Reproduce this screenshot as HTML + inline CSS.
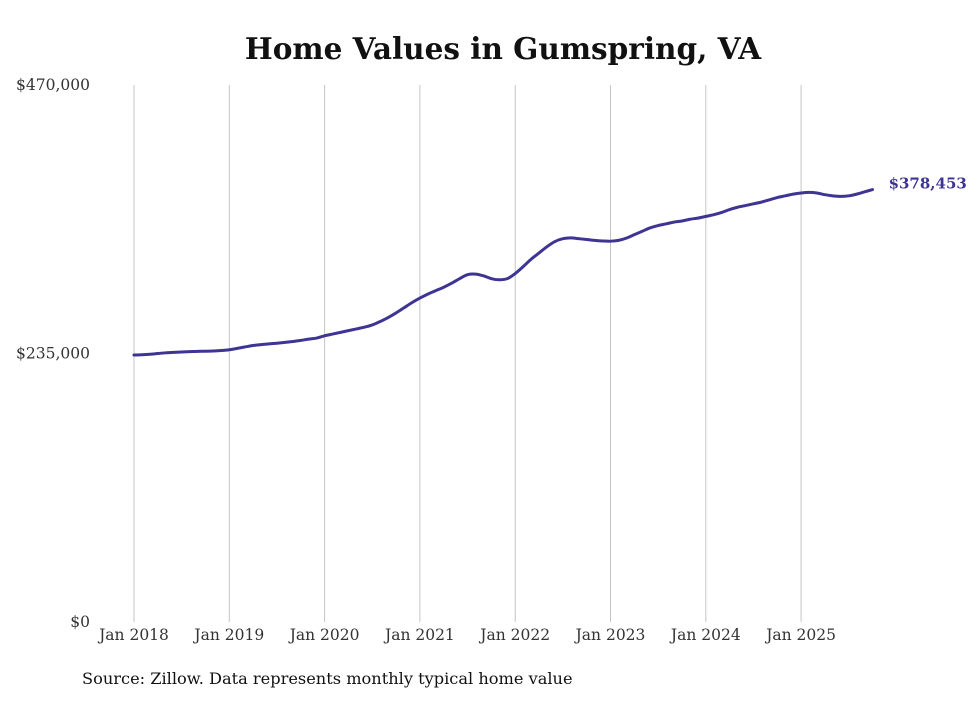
<!DOCTYPE html>
<html><head><meta charset="utf-8">
<style>
html,body{margin:0;padding:0;background:#fff;}
body{width:980px;height:699px;overflow:hidden;font-family:"DejaVu Serif","Liberation Serif",serif;}
svg text{font-family:"DejaVu Serif","Liberation Serif",serif;}
</style></head>
<body>
<svg id="chart" width="980" height="699" viewBox="0 0 980 699" xmlns="http://www.w3.org/2000/svg">
<text x="503" y="59" text-anchor="middle" font-size="29.5" font-weight="bold" fill="#111">Home Values in Gumspring, VA</text>
<g id="grid"></g>
<g id="yaxis"></g>
<g id="xaxis"></g>
<path id="line" fill="none" stroke="#3d3494" stroke-width="3" stroke-linejoin="round" stroke-linecap="round"></path>
<text id="endlabel" font-size="15" font-weight="bold" fill="#3d3494"></text>
<text x="82" y="684" font-size="16.2" fill="#111">Source: Zillow. Data represents monthly typical home value</text>
</svg>
<script>
const years = ["Jan 2018","Jan 2019","Jan 2020","Jan 2021","Jan 2022","Jan 2023","Jan 2024","Jan 2025"];
const yTicks = [0,235000,470000];
const yTickLabels = ["$0","$235,000","$470,000"];
const values2018 = [233.7,233.9,234.3,235.0,235.6,236.0,236.3,236.6,236.9,237.0,237.2,237.6];
const values2019 = [238.3,239.5,240.8,242.0,242.8,243.4,244.0,244.7,245.5,246.5,247.6,248.5];
const values2020 = [250.5,252,253.5,255,256.5,258,260,263,266.5,270.5,275,279.5];
const values2021 = [283.5,287,290,293,296.5,300.5,304,304.5,303,300.5,299.5,300.5];
const values2022 = [305,311,317.5,323,328.5,333,335.5,336.2,335.5,334.8,334,333.5];
const values2023 = [333.3,334,336,339,342,345,347,348.5,350,351,352.5,353.5];
const values2024 = [355,356.5,358.5,361,363,364.5,366,367.5,369.5,371.5,373,374.5];
const values2025 = [375.5,376,375.5,374,373,372.5,373,374.5,376.5,378.453];
const lastLabel = "$378,453";

const values = [].concat(values2018,values2019,values2020,values2021,values2022,values2023,values2024,values2025).map(v=>v*1000);
const X0=134, XPERYEAR=95.3, Y0=622, YTOP=85, YMAX=470000;
const x = i => X0 + i*XPERYEAR/12;
const y = v => Y0 - v/YMAX*(Y0-YTOP);
const NS="http://www.w3.org/2000/svg";
const grid=document.getElementById('grid'), xa=document.getElementById('xaxis'), ya=document.getElementById('yaxis');
years.forEach((lab,k)=>{
  const gx = x(k*12);
  const l=document.createElementNS(NS,'line');
  
  
  l.setAttribute('x1',gx);l.setAttribute('x2',gx);l.setAttribute('y1',YTOP);l.setAttribute('y2',Y0);
  l.setAttribute('stroke','#c4c4c4');l.setAttribute('stroke-width','1');
  grid.appendChild(l);
  const t=document.createElementNS(NS,'text');
  
  
  t.setAttribute('x',gx);t.setAttribute('y',640);t.setAttribute('text-anchor','middle');
  t.setAttribute('font-size','15.5');t.setAttribute('fill','#333');t.textContent=lab;
  xa.appendChild(t);
});
yTicks.forEach((v,k)=>{
  const t=document.createElementNS(NS,'text');
  
  
  t.setAttribute('x',90);t.setAttribute('y',y(v)+5);t.setAttribute('text-anchor','end');
  t.setAttribute('font-size','15.5');t.setAttribute('fill','#333');t.textContent=yTickLabels[k];
  ya.appendChild(t);
});
const pts = values.map((v,i)=>[x(i),y(v)]);
let d='M'+pts[0][0]+','+pts[0][1];
for(let i=0;i<pts.length-1;i++){
  const p0=pts[Math.max(0,i-1)],p1=pts[i],p2=pts[i+1],p3=pts[Math.min(pts.length-1,i+2)];
  const c1=[p1[0]+(p2[0]-p0[0])/6,p1[1]+(p2[1]-p0[1])/6];
  const c2=[p2[0]-(p3[0]-p1[0])/6,p2[1]-(p3[1]-p1[1])/6];
  d+=' C'+c1[0]+','+c1[1]+' '+c2[0]+','+c2[1]+' '+p2[0]+','+p2[1];
}
document.getElementById('line').setAttribute('d',d);
const last=pts[pts.length-1];
const el=document.getElementById('endlabel');
el.setAttribute('x',last[0]+16);el.setAttribute('y',last[1]-1);el.textContent=lastLabel;
</script>
</body></html>
